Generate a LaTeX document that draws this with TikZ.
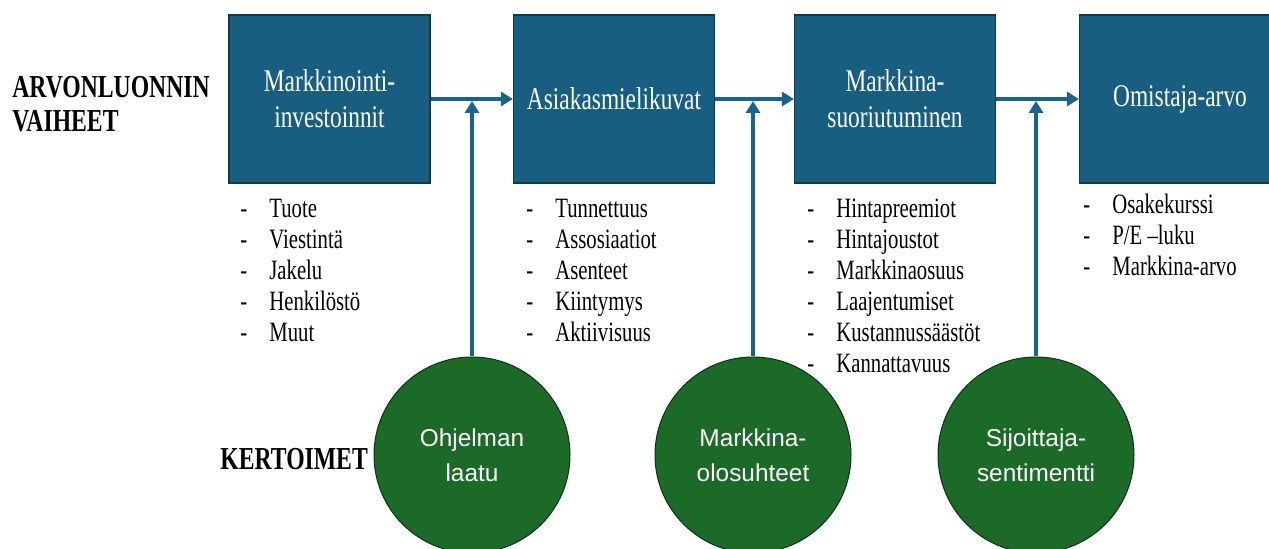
\documentclass[tikz,border=0pt]{standalone}
\usepackage{fontspec}
\usepackage{array}
\setmainfont[FakeStretch=0.74]{Liberation Serif}
\newfontfamily\circfont{Liberation Sans}
\usetikzlibrary{arrows.meta,positioning}
\definecolor{stageblue}{HTML}{185E80}
\definecolor{stageedge}{HTML}{0E3A50}
\definecolor{linkblue}{HTML}{1B6489}
\definecolor{factorgreen}{HTML}{1B6A27}
\definecolor{factoredge}{HTML}{10301A}
\newcommand{\dashlist}[1]{\begin{tabular}[t]{@{}>{\makebox[14.5pt][l]{-}}l@{}}#1\end{tabular}}
\tikzset{
  stagebox/.style={draw=stageedge, fill=stageblue, line width=0.6pt,
                   minimum width=100.5pt, minimum height=84pt, inner sep=2pt,
                   align=center, text=white, font=\fontsize{15.8}{18}\selectfont},
  factor/.style={circle, draw=factoredge, fill=factorgreen, line width=0.5pt,
                 minimum size=98pt, inner sep=0pt, align=center, text=white,
                 font=\circfont\fontsize{12.2}{17.5}\selectfont},
  stagearrow/.style={-{Triangle[length=6pt,width=7pt]}, draw=linkblue,
                     line width=2pt},
  itemlist/.style={anchor=base west, inner sep=0pt,
                   font=\fontsize{14}{15.5}\selectfont},
  rowlabel/.style={inner sep=0pt, align=left,
                   font=\bfseries\fontsize{16}{17}\selectfont},
}

\begin{document}
\begin{tikzpicture}[x=0.5pt,y=-0.5pt]
\useasboundingbox (0,0) rectangle (1269,549);
% value creation stages
\node[stagebox] (b1) at (329.5,99) {Markkinointi-\\investoinnit};
\node[stagebox] (b2) at (614,99) {Asiakasmielikuvat};
\node[stagebox] (b3) at (895,99) {Markkina-\\suoriutuminen};
\node[stagebox] (b4) at (1180,99) {Omistaja-arvo};
\draw[stagearrow] (b1)--(b2); \draw[stagearrow] (b2)--(b3);
\draw[stagearrow] (b3)--(b4);
% multipliers
\node[factor] (f1) at (472,455) {Ohjelman\\laatu};
\node[factor] (f2) at (753,455) {Markkina-\\olosuhteet};
\node[factor] (f3) at (1036,455) {Sijoittaja-\\sentimentti};
\coordinate (j1) at (472,101); \coordinate (j2) at (753,101);
\coordinate (j3) at (1036,101);
\draw[stagearrow] (f1)--(j1); \draw[stagearrow] (f2)--(j2);
\draw[stagearrow] (f3)--(j3);
% lists under the stages
\node[itemlist] (l1) at (240,218) {\dashlist{Tuote\\Viestintä\\Jakelu\\Henkilöstö\\Muut}};
\node[itemlist] (l2) at (526,218) {\dashlist{Tunnettuus\\Assosiaatiot\\Asenteet\\Kiintymys\\Aktiivisuus}};
\node[itemlist] (l3) at (807,218) {\dashlist{Hintapreemiot\\Hintajoustot\\Markkinaosuus\\Laajentumiset\\Kustannussäästöt\\Kannattavuus}};
\node[itemlist] (l4) at (1083,214) {\dashlist{Osakekurssi\\P/E –luku\\Markkina-arvo}};
% row labels
\node[rowlabel,anchor=west] (stages) at (12,104) {ARVONLUONNIN\\VAIHEET};
\node[rowlabel,anchor=base west] (mult) at (220,470) {KERTOIMET};
\end{tikzpicture}
\end{document}
